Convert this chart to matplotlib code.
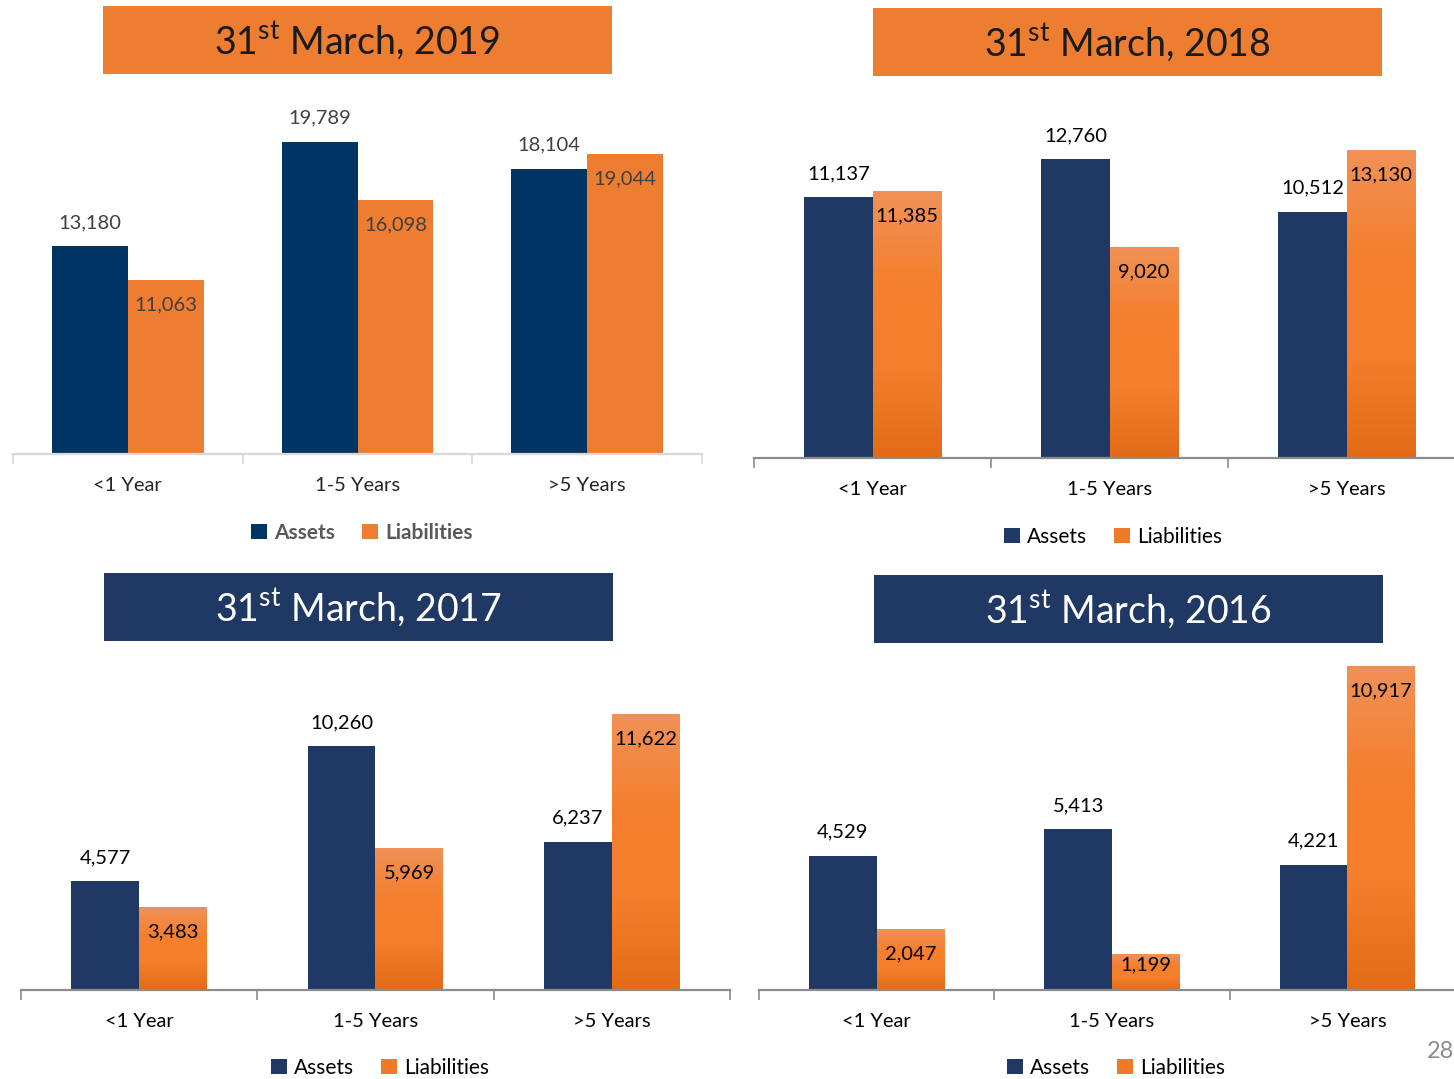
import matplotlib
matplotlib.use("Agg")
import matplotlib.pyplot as plt
import numpy as np
from matplotlib.patches import Rectangle, Patch
from matplotlib.colors import LinearSegmentedColormap

plt.rcParams['font.family'] = ['Lato', 'DejaVu Sans']
plt.rcParams['mathtext.fontset'] = 'custom'
plt.rcParams['mathtext.rm'] = 'Lato'

# ---------------- data ----------------
categories = ["<1 Year", "1-5 Years", ">5 Years"]
series_names = ["Assets", "Liabilities"]
titles = ["31$^{\\mathrm{st}}$ March, 2019", "31$^{\\mathrm{st}}$ March, 2018",
          "31$^{\\mathrm{st}}$ March, 2017", "31$^{\\mathrm{st}}$ March, 2016"]
assets_2019 = [13180, 19789, 18104]
liabilities_2019 = [11063, 16098, 19044]
assets_2018 = [11137, 12760, 10512]
liabilities_2018 = [11385, 9020, 13130]
assets_2017 = [4577, 10260, 6237]
liabilities_2017 = [3483, 5969, 11622]
assets_2016 = [4529, 5413, 4221]
liabilities_2016 = [2047, 1199, 10917]
page_number = "28"

W, H = 1454, 1079
fig = plt.figure(figsize=(W / 100, H / 100), dpi=100)
fig.patch.set_facecolor('white')
PX2PT = 72 / 100

def frac_rect(x0, y0, x1, y1):
    # pixel box (top-left origin) -> figure fraction rect
    return [x0 / W, 1 - y1 / H, (x1 - x0) / W, (y1 - y0) / H]

ORANGE = '#ED7D31'
NAVY = '#203864'
NAVY19 = '#003462'
grad_cmap = LinearSegmentedColormap.from_list(
    'liab', ['#E36B18', '#F47E2B', '#F4802F', '#F19157'])

panels = [
    dict(title=titles[0], assets=assets_2019, liabs=liabilities_2019,
         box=(103, 6, 612, 74), box_color=ORANGE, title_color='#1a1a1a',
         ax=(13, 100, 702, 454), ymax=22448, width=0.33,
         asset_color=NAVY19, gradient=False, label_color='#404040', cat_color='#262626',
         inner_color='#404040', spine_color='#D9D9D9',
         legend_center=(362, 533), legend_bold=True, legend_color='#595959'),
    dict(title=titles[1], assets=assets_2018, liabs=liabilities_2018,
         box=(873, 8, 1382, 76), box_color=ORANGE, title_color='#1a1a1a',
         ax=(754, 100, 1465, 458), ymax=15280, width=0.287,
         asset_color=NAVY, gradient=True, label_color='black', cat_color='black',
         inner_color='black', spine_color='#8C8C8C',
         legend_center=(1113, 537), legend_bold=False, legend_color='black'),
    dict(title=titles[2], assets=assets_2017, liabs=liabilities_2017,
         box=(104, 573, 613, 641), box_color=NAVY, title_color='white',
         ax=(21, 690, 730, 990), ymax=12616, width=0.2875,
         asset_color=NAVY, gradient=True, label_color='black', cat_color='black',
         inner_color='black', spine_color='#8C8C8C',
         legend_center=(380, 1068), legend_bold=False, legend_color='black'),
    dict(title=titles[3], assets=assets_2016, liabs=liabilities_2016,
         box=(874, 575, 1383, 643), box_color=NAVY, title_color='white',
         ax=(759, 660, 1465, 990), ymax=11119, width=0.287,
         asset_color=NAVY, gradient=True, label_color='black', cat_color='black',
         inner_color='black', spine_color='#8C8C8C',
         legend_center=(1116, 1068), legend_bold=False, legend_color='black'),
]

for p in panels:
    # title box
    bx0, by0, bx1, by1 = p['box']
    fig.patches.append(Rectangle((bx0 / W, 1 - by1 / H), (bx1 - bx0) / W, (by1 - by0) / H,
                                 transform=fig.transFigure, facecolor=p['box_color'],
                                 edgecolor='none', zorder=0))
    fig.text((bx0 + bx1) / 2 / W, 1 - ((by0 + by1) / 2 + 1) / H, p['title'],
             ha='center', va='center', fontsize=27, color=p['title_color'])

    ax = fig.add_axes(frac_rect(*p['ax']))
    ax.set_facecolor('none')
    x = np.arange(len(categories)) + 0.5
    w = p['width']
    ab = ax.bar(x - w / 2, p['assets'], width=w, color=p['asset_color'],
                edgecolor='none', zorder=2)
    lb = ax.bar(x + w / 2, p['liabs'], width=w, color=ORANGE, edgecolor='none', zorder=2)
    ax.set_xlim(0, 3)
    ax.set_ylim(0, p['ymax'])

    if p['gradient']:
        grad = np.linspace(1, 0, 256).reshape(-1, 1)
        for rect in lb:
            x0 = rect.get_x()
            x1 = x0 + rect.get_width()
            h = rect.get_height()
            im = ax.imshow(grad, cmap=grad_cmap, vmin=0, vmax=1, aspect='auto',
                           extent=(x0, x1, 0, h), zorder=2.5, interpolation='bilinear')
            im.set_clip_path(rect)
            rect.set_facecolor('none')
        ax.set_xlim(0, 3)
        ax.set_ylim(0, p['ymax'])

    for rect, v in zip(ab, p['assets']):
        ax.annotate(f"{v:,}", (rect.get_x() + rect.get_width() / 2, rect.get_height()),
                    xytext=(0, 17), textcoords='offset points', ha='center', va='center',
                    fontsize=14.5, color=p['label_color'], zorder=5)
    # pixel height of bars for inside-label placement
    ax_h_px = p['ax'][3] - p['ax'][1]
    for rect, v in zip(lb, p['liabs']):
        h_px = rect.get_height() / p['ymax'] * ax_h_px
        off_px = min(25, max(10, h_px - 26))
        ax.annotate(f"{v:,}", (rect.get_x() + rect.get_width() / 2, rect.get_height()),
                    xytext=(0, -off_px * PX2PT), textcoords='offset points',
                    ha='center', va='center',
                    fontsize=14.5, color=p['inner_color'], zorder=5)

    for s in ['left', 'right', 'top']:
        ax.spines[s].set_visible(False)
    ax.spines['bottom'].set_color(p['spine_color'])
    ax.spines['bottom'].set_linewidth(1.6)
    ax.spines['bottom'].set_zorder(3)
    ax.set_yticks([])
    ax.set_xticks(x)
    ax.set_xticklabels(categories, fontsize=14.5, color=p['cat_color'])
    ax.tick_params(axis='x', which='major', length=0, pad=16.5)
    ax.set_xticks([0, 1, 2, 3], minor=True)
    ax.tick_params(axis='x', which='minor', length=7, width=1.2, color=p['spine_color'],
                   direction='out')

    # legend
    handles = [Patch(facecolor=p['asset_color'], edgecolor='none'),
               Patch(facecolor=ORANGE if not p['gradient'] else '#F07A28', edgecolor='none')]
    lcx, lcy = p['legend_center']
    leg = fig.legend(handles, series_names, loc='center',
                     bbox_to_anchor=(lcx / W, 1 - lcy / H), ncol=2, frameon=False,
                     handlelength=0.75, handleheight=0.75, handletextpad=0.35,
                     columnspacing=1.3, borderaxespad=0, borderpad=0,
                     prop=dict(size=15, weight='bold' if p['legend_bold'] else 'normal'))
    for t in leg.get_texts():
        t.set_color(p['legend_color'])

fig.text(1440 / W, 1 - 1052 / H, page_number, ha='center', va='center',
         fontsize=17, color='#8C8C8C')

fig.savefig('out.png', dpi=100, facecolor='white')
